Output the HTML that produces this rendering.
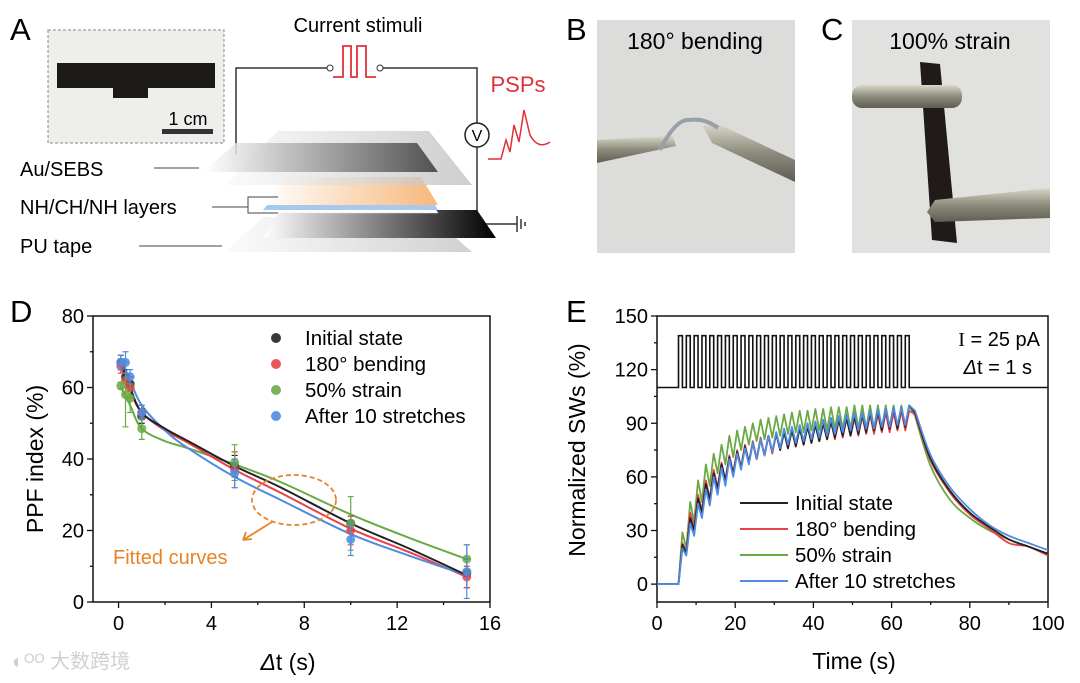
<!DOCTYPE html>
<html><head><meta charset="utf-8"><style>
html,body{margin:0;padding:0;background:#fff}
svg{display:block;font-family:"Liberation Sans","Noto Sans CJK SC",sans-serif}
</style></head><body>
<svg id="fig" width="1080" height="683" viewBox="0 0 1080 683" xmlns="http://www.w3.org/2000/svg">
<defs>
<linearGradient id="gDark" x1="0" x2="1"><stop offset="0" stop-color="#fff"/><stop offset="1" stop-color="#3a3a3a"/></linearGradient>
<linearGradient id="gLight" x1="0" x2="1"><stop offset="0" stop-color="#fafafa"/><stop offset="1" stop-color="#bdbdbd"/></linearGradient>
<linearGradient id="gOr" x1="0" x2="1"><stop offset="0" stop-color="#fff"/><stop offset="1" stop-color="#f7b77a"/></linearGradient>
<linearGradient id="gBlk" x1="0" x2="1"><stop offset="0" stop-color="#fff"/><stop offset="1" stop-color="#000"/></linearGradient>
<linearGradient id="gTw" x1="0" y1="0" x2="0" y2="1"><stop offset="0" stop-color="#d9d7c8"/><stop offset="0.5" stop-color="#8d8b7c"/><stop offset="1" stop-color="#5e5d52"/></linearGradient>
</defs>

<!-- Panel A -->
<g>
<text x="10" y="40" font-size="31">A</text>
<rect x="48" y="30" width="176" height="113" fill="#eeeeec" stroke="#888" stroke-dasharray="3,2"/>
<polygon points="57,63 215,63 215,88 148,88 148,98 113,98 113,88 57,88" fill="#1c1a16"/>
<text x="188" y="125" font-size="18" text-anchor="middle">1 cm</text>
<rect x="162" y="129" width="51" height="5" fill="#333"/>
<text x="358" y="32" font-size="20" text-anchor="middle">Current stimuli</text>
<polyline points="236,154 236,68 327,68" fill="none" stroke="#333" stroke-width="1.5"/>
<polyline points="383,68 477,68 477,123" fill="none" stroke="#333" stroke-width="1.5"/>
<polyline points="477,147 477,224 517,224" fill="none" stroke="#333" stroke-width="1.5"/>
<circle cx="330" cy="68" r="3" fill="#fff" stroke="#333"/>
<circle cx="380" cy="68" r="3" fill="#fff" stroke="#333"/>
<polyline points="333,77 343,77 343,46 351,46 351,77 357,77 357,46 366,46 366,77 376,77" fill="none" stroke="#e0303a" stroke-width="1.8"/>
<circle cx="477" cy="135" r="12" fill="#fff" stroke="#222" stroke-width="1.5"/>
<text x="477" y="141" font-size="16" text-anchor="middle">V</text>
<line x1="517" y1="216" x2="517" y2="232" stroke="#333" stroke-width="1.5"/>
<line x1="521" y1="219" x2="521" y2="229" stroke="#333" stroke-width="1.5"/>
<line x1="525" y1="222" x2="525" y2="226" stroke="#333" stroke-width="1.5"/>
<text x="518" y="92" font-size="22" fill="#e0303a" text-anchor="middle">PSPs</text>
<path d="M488,159 L501,159 L506,140 L510,152 L514,125 L519,142 L524,110 L530,135 Q538,150 550,142" fill="none" stroke="#e0303a" stroke-width="1.5"/>
<polygon points="225,252 263,217 432,217 472,252" fill="url(#gLight)" opacity="0.7"/>
<polygon points="263,238 280,210 477,210 496,238" fill="url(#gBlk)"/>
<polygon points="263,213 286,185 421,185 438,213" fill="#fff" stroke="#ddd" stroke-width="0.5"/>
<polygon points="263,210 286,182 421,182 438,210" fill="#a9c8ee"/>
<polygon points="263,205 286,177 421,177 438,205" fill="url(#gOr)"/>
<polygon points="225,185 278,131 429,131 472,185" fill="url(#gLight)" opacity="0.75"/>
<polygon points="203,172 236,143 417,143 438,172" fill="url(#gDark)" opacity="0.85"/>
<text x="20" y="176" font-size="20">Au/SEBS</text>
<line x1="154" y1="168" x2="199" y2="168" stroke="#444"/>
<text x="20" y="214" font-size="20">NH/CH/NH layers</text>
<polyline points="212,207 248,207" fill="none" stroke="#444"/>
<polyline points="278,197 248,197 248,213 278,213" fill="none" stroke="#444"/>
<text x="20" y="253" font-size="20">PU tape</text>
<line x1="139" y1="246" x2="222" y2="246" stroke="#444"/>
</g>

<!-- Panel B -->
<g>
<text x="566" y="40" font-size="31">B</text>
<rect x="597" y="20" width="198" height="233" fill="#dcdcdb"/>
<polygon points="597,140 673,136 676,146 597,163" fill="url(#gTw)"/>
<polygon points="703,126 718,124 795,160 795,182 712,143" fill="url(#gTw)"/>
<path d="M660,150 Q676,118 690,120 Q705,118 718,128" fill="none" stroke="#9aa0a8" stroke-width="4"/>
<text x="695" y="49" font-size="23" text-anchor="middle">180° bending</text>
</g>

<!-- Panel C -->
<g>
<text x="821" y="40" font-size="31">C</text>
<rect x="852" y="20" width="198" height="233" fill="#e1e1e0"/>
<polygon points="920,62 940,64 957,243 932,240" fill="#201a18"/>
<rect x="852" y="85" width="110" height="23" rx="10" fill="url(#gTw)"/>
<polygon points="935,200 1050,188 1050,218 935,222 927,212" fill="url(#gTw)"/>
<text x="950" y="49" font-size="23" text-anchor="middle">100% strain</text>
</g>

<text x="10" y="322" font-size="31">D</text>
<text x="566" y="322" font-size="31">E</text>
<g id="chartD"></g>
<g id="chartE"></g>
<text x="12" y="668" font-size="20" fill="#d0d0d0">◐ᴼᴼ 大数跨境</text>
</svg>
<script>
// ---------- Panel D data ----------
const dX = [0.1, 0.3, 0.5, 1, 5, 10, 15];
const dInitial = [67, 63, 61, 52, 38, 22, 8];
const dBending = [66, 62, 60, 53, 37, 20, 7];
const dStrain = [60.5, 58, 57, 48.5, 39, 22, 12];
const dStretch = [67, 67, 63, 53, 36, 17.5, 8.5];
const dErrInitial = [2, 2, 2, 2, 3, 2, 4];
const dErrBending = [2, 2, 3, 2, 5, 4, 3];
const dErrStrain = [1, 9, 4, 3, 5, 7.5, 4];
const dErrStretch = [2, 3, 2, 2, 4, 4.5, 7.5];
const fitX = [0.1, 0.5, 1, 2, 3, 5, 7, 10, 12.5, 15];
const fitInitial = [67, 60, 53, 48.5, 45, 38, 32, 22, 15, 7.5];
const fitBending = [66, 59, 53, 48, 44.5, 37, 30.5, 20.5, 14, 7];
const fitStrain = [60, 55, 48.5, 45, 43, 38.5, 33.5, 24.5, 18, 12];
const fitStretch = [68, 62, 55, 48, 43, 35, 28.5, 19, 13, 7.5];
const dXTicks = [0, 4, 8, 12, 16];
const dYTicks = [0, 20, 40, 60, 80];
const seriesNames = ["Initial state", "180° bending", "50% strain", "After 10 stretches"];
// ---------- Panel E data ----------
const pulseStart = 5.5, pulsePeriod = 2, pulseWidth = 1, pulseCount = 30;
const pulseLow = 110, pulseHigh = 139;
const ePeaksInitial = [22,37,48,56,62,67,71,74,77,79,81,83,84,85,86,87,88,89,90,91,92,93,94,95,96,97,98,99,99,100];
const eTroughInitial = [17,30,40,47,53,58,62,65,68,70,72,74,75,76,77,78,79,80,81,82,83,83,84,85,86,86,87,87,88];
const ePeaksBending = [23,40,50,58,64,68,72,75,78,80,82,83,85,86,87,88,89,90,90,91,92,93,93,94,95,95,96,96,97,97];
const eTroughBending = [18,32,41,48,54,58,62,65,68,70,72,73,75,76,77,78,79,80,81,81,82,83,83,84,84,85,85,86,86];
const ePeaksStrain = [29,46,58,67,73,78,83,86,88,90,92,93,94,95,96,97,97,98,98,99,99,99,100,100,100,100,100,100,100,100];
const eTroughStrain = [20,35,46,55,62,67,71,75,78,80,81,82,83,84,85,85,86,86,86,87,87,87,87,87,87,87,87,87,87];
const ePeaksStretch = [20,34,45,53,60,65,70,73,76,79,81,83,85,87,88,89,90,91,92,93,94,95,96,96,97,98,98,99,99,100];
const eTroughStretch = [16,27,37,44,50,55,60,64,67,70,72,74,76,78,79,80,81,82,83,84,85,86,86,87,87,88,88,89,89];
const decayT = [66, 70, 75, 80, 85, 90, 95, 100];
const decayInitial = [96, 70, 52, 40, 32, 25, 21, 17];
const decayBending = [95, 69, 51, 39, 31, 23, 21, 16];
const decayStrain = [94, 66, 47, 37, 30, 25, 21, 17];
const decayStretch = [97, 72, 54, 42, 33, 27, 23, 19];
const eXTicks = [0, 20, 40, 60, 80, 100];
const eYTicks = [0, 30, 60, 90, 120, 150];

const colors = ["#222222", "#e8424a", "#6aaa45", "#4f8be0"];
const NS = "http://www.w3.org/2000/svg";
function mk(parent, tag, attrs, text) {
  const el = document.createElementNS(NS, tag);
  for (const k in attrs) el.setAttribute(k, attrs[k]);
  if (text !== undefined) el.textContent = text;
  parent.appendChild(el);
  return el;
}
function smooth(pts) {
  let d = "M" + pts[0][0] + "," + pts[0][1];
  for (let i = 0; i < pts.length - 1; i++) {
    const p0 = pts[Math.max(0, i - 1)], p1 = pts[i], p2 = pts[i + 1], p3 = pts[Math.min(pts.length - 1, i + 2)];
    const c1x = p1[0] + (p2[0] - p0[0]) / 6, c1y = p1[1] + (p2[1] - p0[1]) / 6;
    const c2x = p2[0] - (p3[0] - p1[0]) / 6, c2y = p2[1] - (p3[1] - p1[1]) / 6;
    d += " C" + c1x + "," + c1y + " " + c2x + "," + c2y + " " + p2[0] + "," + p2[1];
  }
  return d;
}

// ---------- Draw D ----------
(function () {
  const g = document.getElementById("chartD");
  const L = 93, R = 490, T = 316, B = 602, xmin = -1.1, xmax = 16, ymin = 0, ymax = 80;
  const sx = v => L + (v - xmin) / (xmax - xmin) * (R - L);
  const sy = v => B - (v - ymin) / (ymax - ymin) * (B - T);
  const frame = mk(g, "rect", {x: L, y: T, width: R - L, height: B - T, fill: "none", stroke: "#111", "stroke-width": 1.5});
  
  
  for (let v = 0; v <= 16; v += 2) {
    const major = dXTicks.includes(v);
    mk(g, "line", {x1: sx(v), x2: sx(v), y1: B, y2: B + (major ? 6 : 3), stroke: "#111", "stroke-width": 1.3});
  }
  dXTicks.forEach(v => {
    const t = mk(g, "text", {x: sx(v), y: 630, "font-size": 20, "text-anchor": "middle"}, v);
    
    
  });
  for (let v = 0; v <= 80; v += 10) {
    const major = dYTicks.includes(v);
    mk(g, "line", {x1: L, x2: L - (major ? 6 : 3), y1: sy(v), y2: sy(v), stroke: "#111", "stroke-width": 1.3});
  }
  dYTicks.forEach(v => {
    const t = mk(g, "text", {x: 84, y: sy(v) + 7, "font-size": 20, "text-anchor": "end"}, v);
    
    
  });
  const yt = mk(g, "text", {x: 0, y: 0, "font-size": 23, "text-anchor": "middle", transform: "translate(43,459) rotate(-90)"}, "PPF index (%)");
  
  
  const xt = mk(g, "text", {x: 288, y: 670, "font-size": 23, "text-anchor": "middle"});
  mk(xt, "tspan", {"font-style": "italic"}, "Δ");
  mk(xt, "tspan", {}, "t (s)");
  
  
  const fits = [fitInitial, fitBending, fitStrain, fitStretch];
  const data = [dInitial, dBending, dStrain, dStretch];
  const errs = [dErrInitial, dErrBending, dErrStrain, dErrStretch];
  [2, 1, 3, 0].forEach(s => {
    const p = mk(g, "path", {d: smooth(fitX.map((x, i) => [sx(x), sy(fits[s][i])])), fill: "none", stroke: colors[s], "stroke-width": 2});
    
    
  });
  [0, 1, 2, 3].forEach(s => {
    dX.forEach((x, i) => {
      const e = mk(g, "path", {d: `M${sx(x)},${sy(data[s][i] - errs[s][i])}V${sy(data[s][i] + errs[s][i])}M${sx(x) - 3},${sy(data[s][i] - errs[s][i])}h6M${sx(x) - 3},${sy(data[s][i] + errs[s][i])}h6`, stroke: colors[s], "stroke-width": 1.2, fill: "none"});
      
      
      const c = mk(g, "circle", {cx: sx(x), cy: sy(data[s][i]), r: 4.5, fill: colors[s], opacity: 0.85});
      
      
    });
  });
  seriesNames.forEach((n, s) => {
    const y = 338 + s * 26;
    const c = mk(g, "circle", {cx: 276, cy: y, r: 5, fill: colors[s], opacity: 0.9});
    
    
    const t = mk(g, "text", {x: 305, y: y + 7, "font-size": 20.5}, n);
    
    
  });
  const el = mk(g, "ellipse", {cx: 294, cy: 500, rx: 42, ry: 25, fill: "none", stroke: "#e8832a", "stroke-width": 1.8, "stroke-dasharray": "5,3"});
  
  
  const ar = mk(g, "path", {d: "M272,522 L243,540 M243,540 l3,-8 M243,540 l9,-1", stroke: "#e8832a", "stroke-width": 1.8, fill: "none"});
  
  
  const ft = mk(g, "text", {x: 113, y: 564, "font-size": 20, fill: "#e8832a"}, "Fitted curves");
  
  
})();

// ---------- Draw E ----------
(function () {
  const g = document.getElementById("chartE");
  const L = 657, R = 1048, T = 316, B = 602, xmin = 0, xmax = 100, ymin = -10, ymax = 150;
  const sx = v => L + (v - xmin) / (xmax - xmin) * (R - L);
  const sy = v => B - (v - ymin) / (ymax - ymin) * (B - T);
  const frame = mk(g, "rect", {x: L, y: T, width: R - L, height: B - T, fill: "none", stroke: "#111", "stroke-width": 1.5});
  
  
  for (let v = 0; v <= 100; v += 10) {
    const major = eXTicks.includes(v);
    mk(g, "line", {x1: sx(v), x2: sx(v), y1: B, y2: B + (major ? 6 : 3), stroke: "#111", "stroke-width": 1.3});
  }
  eXTicks.forEach(v => {
    const t = mk(g, "text", {x: sx(v), y: 630, "font-size": 20, "text-anchor": "middle"}, v);
    
    
  });
  for (let v = -15; v <= 150; v += 15) {
    if (v < ymin) continue;
    const major = eYTicks.includes(v);
    mk(g, "line", {x1: L, x2: L - (major ? 6 : 3), y1: sy(v), y2: sy(v), stroke: "#111", "stroke-width": 1.3});
  }
  eYTicks.forEach(v => {
    const t = mk(g, "text", {x: 648, y: sy(v) + 7, "font-size": 20, "text-anchor": "end"}, v);
    
    
  });
  const yt = mk(g, "text", {x: 0, y: 0, "font-size": 23, "text-anchor": "middle", transform: "translate(585,450) rotate(-90)"}, "Normalized SWs (%)");
  
  
  const xt = mk(g, "text", {x: 854, y: 669, "font-size": 23, "text-anchor": "middle"}, "Time (s)");
  
  
  let d = `M${sx(0)},${sy(pulseLow)}`;
  for (let i = 0; i < pulseCount; i++) {
    const t0 = pulseStart + i * pulsePeriod;
    d += ` L${sx(t0)},${sy(pulseLow)} L${sx(t0)},${sy(pulseHigh)} L${sx(t0 + pulseWidth)},${sy(pulseHigh)} L${sx(t0 + pulseWidth)},${sy(pulseLow)}`;
  }
  d += ` L${sx(100)},${sy(pulseLow)}`;
  const pt = mk(g, "path", {d: d, fill: "none", stroke: "#111", "stroke-width": 1.6});
  
  
  const a1 = mk(g, "text", {x: 1040, y: 346, "font-size": 20, "text-anchor": "end", "font-family": "Liberation Serif, serif"});
  a1.textContent = "I";
  mk(a1, "tspan", {"font-family": "Liberation Sans, sans-serif"}, " = 25 pA");
  
  
  const a2 = mk(g, "text", {x: 1032, y: 374, "font-size": 20, "text-anchor": "end"});
  mk(a2, "tspan", {"font-style": "italic"}, "Δ");
  mk(a2, "tspan", {}, "t = 1 s");
  
  
  const peaks = [ePeaksInitial, ePeaksBending, ePeaksStrain, ePeaksStretch];
  const troughs = [eTroughInitial, eTroughBending, eTroughStrain, eTroughStretch];
  const decays = [decayInitial, decayBending, decayStrain, decayStretch];
  [2, 1, 0, 3].forEach(s => {
    let p = `M${sx(0)},${sy(0)} L${sx(pulseStart)},${sy(0)}`;
    for (let i = 0; i < pulseCount; i++) {
      const t0 = pulseStart + i * pulsePeriod;
      p += ` L${sx(t0 + pulseWidth)},${sy(peaks[s][i])}`;
      if (i < pulseCount - 1) p += ` L${sx(t0 + pulsePeriod)},${sy(troughs[s][i])}`;
    }
    const dec = decayT.map((t, i) => [sx(t), sy(decays[s][i])]);
    p += " L" + dec[0][0] + "," + dec[0][1] + smooth(dec).replace(/^M[^ ]+/, "");
    const path = mk(g, "path", {d: p, fill: "none", stroke: colors[s], "stroke-width": 1.8, "stroke-linejoin": "round"});
    
    
  });
  seriesNames.forEach((n, s) => {
    const y = 503 + s * 26;
    const ln = mk(g, "line", {x1: 740, x2: 788, y1: y, y2: y, stroke: colors[s], "stroke-width": 2});
    
    
    const t = mk(g, "text", {x: 795, y: y + 7, "font-size": 20.5}, n);
    
    
  });
})();
</script>
</body></html>
